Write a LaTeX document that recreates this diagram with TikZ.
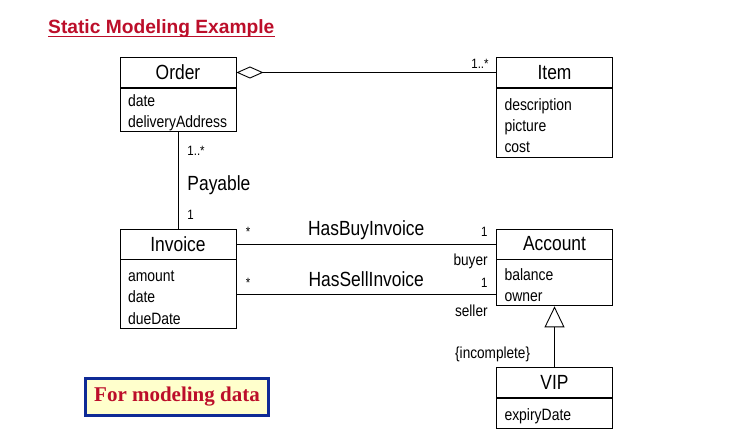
\documentclass[tikz,border=0pt]{standalone}
\usepackage{fontspec}
\setmainfont{Liberation Sans}
\newfontfamily\umlfont{Liberation Sans}[FakeStretch=0.85]
\newfontfamily\notefont{Liberation Serif}
\usetikzlibrary{positioning,arrows.meta}
\definecolor{titlered}{RGB}{188,14,42}
\definecolor{noteblue}{RGB}{14,42,150}
\definecolor{noteyellow}{RGB}{255,255,204}
\tikzset{
  classname/.style={draw, line width=0.9pt, minimum width=116pt, minimum height=30pt, inner sep=0pt, font=\umlfont\fontsize{20.5}{22}\selectfont},
  attrs/.style={draw, line width=0.9pt, text width=100pt, inner xsep=8pt, inner ysep=0pt, align=left, font=\umlfont\fontsize{16.4}{21.3}\selectfont, execute at begin node={\rule{0pt}{17pt}}},
  mult/.style={font=\umlfont\fontsize{13.5}{16}\selectfont, inner sep=0pt},
  assocname/.style={font=\umlfont\fontsize{20.5}{22}\selectfont, inner sep=0pt},
  rolename/.style={font=\umlfont\fontsize{16}{18}\selectfont, inner sep=0pt},
  note/.style={draw=noteblue, line width=3pt, fill=noteyellow, minimum width=183pt, minimum height=37pt, text=titlered, font=\notefont\bfseries\fontsize{21}{24}\selectfont},
  conn/.style={line width=0.9pt}
}
\begin{document}
\begin{tikzpicture}[x=1pt, y=-1pt]
    \useasboundingbox (0,0) rectangle (738,435);
    % title
    \node[anchor=base west, inner sep=0pt, text=titlered, font=\bfseries\fontsize{19.2}{24}\selectfont] (title) at (48,34) {Static Modeling Example};
    \draw[titlered, line width=1.5pt] ([yshift=-2.5pt]title.base west) -- ([yshift=-2.5pt]title.base east);

    % classes
    \node[classname] (order) at (178,72.5) {Order};
    \node[attrs, minimum height=43pt, below=0pt of order] (orderAttr) {date\\deliveryAddress};
    \node[classname] (item) at (554.5,72.5) {Item};
    \node[attrs, minimum height=69pt, below=0pt of item] (itemAttr) {description\\picture\\cost};
    \node[classname] (invoice) at (178,244) {Invoice};
    \node[attrs, minimum height=69pt, below=0pt of invoice] (invoiceAttr) {amount\\date\\dueDate};
    \node[classname] (account) at (554.5,244) {Account};
    \node[attrs, minimum height=46pt, below=0pt of account] (accountAttr) {balance\\owner};
    \node[classname] (vip) at (554.5,382.5) {VIP};
    \node[attrs, minimum height=30pt, below=0pt of vip] (vipAttr) {expiryDate};

    % associations
    \draw[conn, {Diamond[open, length=27pt, width=12pt]}-] (order.east) -- (item.west)
        node[mult, pos=1, anchor=base east, xshift=-7pt, yshift=4pt] {1..*};
    \draw[conn] (orderAttr.south) -- (invoice.north)
        node[mult, pos=0, anchor=base west, xshift=9pt, yshift=-24pt] {1..*}
        node[assocname, midway, anchor=base west, xshift=9pt, yshift=-10pt] {Payable}
        node[mult, pos=1, anchor=base west, xshift=9pt, yshift=9pt] {1};
    \draw[conn] (invoice.east) -- (account.west)
        node[mult, pos=0, anchor=base west, xshift=9pt, yshift=7pt] {*}
        node[assocname, midway, anchor=base, yshift=8pt] {HasBuyInvoice}
        node[mult, pos=1, anchor=base east, xshift=-8pt, yshift=7pt] {1}
        node[rolename, pos=1, anchor=base east, xshift=-8pt, yshift=-22pt] {buyer};
    \draw[conn] (invoiceAttr.east) -- (invoiceAttr.east -| accountAttr.west)
        node[mult, pos=0, anchor=base west, xshift=9pt, yshift=7pt] {*}
        node[assocname, midway, anchor=base, yshift=8pt] {HasSellInvoice}
        node[mult, pos=1, anchor=base east, xshift=-8pt, yshift=7pt] {1}
        node[rolename, pos=1, anchor=base east, xshift=-8pt, yshift=-22pt] {seller};

    % generalization
    \draw[conn, -{Triangle[open, length=21pt, width=20pt]}] (vip.north) -- (accountAttr.south)
        node[rolename, pos=0, anchor=base east, xshift=-24pt, yshift=8.5pt] {\{incomplete\}};

    \node[note] (noteBox) at (177,397) {For modeling data};
\end{tikzpicture}
\end{document}
